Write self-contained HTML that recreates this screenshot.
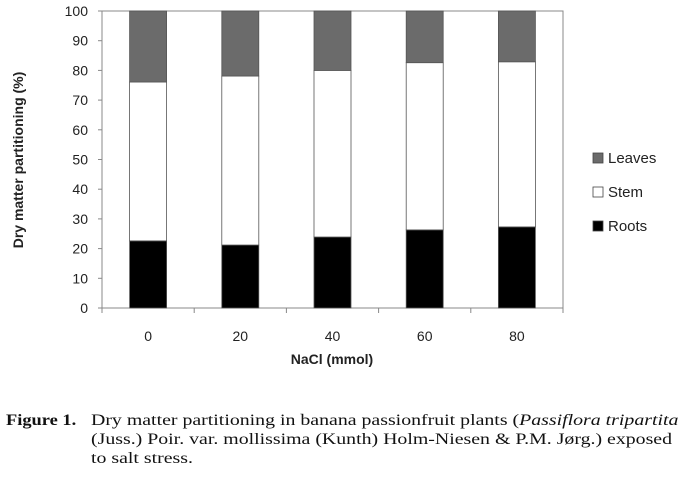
<!DOCTYPE html>
<html><head><meta charset="utf-8"><style>
body{margin:0;background:#fff;width:684px;height:477px;overflow:hidden;position:relative}
svg{position:absolute;left:0;top:0}
.cap{position:absolute;font-family:"Liberation Serif",serif;font-size:16px;line-height:19px;color:#111;transform-origin:0 0;white-space:nowrap}
</style></head><body>
<svg width="684" height="400" id="chart" font-family="Liberation Sans, sans-serif"></svg>
<div class="cap" style="left:6px;top:411px;font-weight:bold;transform:scaleX(1.15)">Figure 1.</div>
<div class="cap" style="left:91px;top:411px;transform:scaleX(1.24)">Dry matter partitioning in banana passionfruit plants (<i>Passiflora tripartita</i><br>(Juss.) Poir. var. mollissima (Kunth) Holm-Niesen &amp; P.M. Jørg.) exposed<br>to salt stress.</div>
<script>
const categories=["0","20","40","60","80"];
const roots=[22.6,21.2,23.9,26.3,27.3];
const stem=[53.5,56.9,56.1,56.3,55.6];
const leaves=[23.9,21.9,20.0,17.4,17.1];
const yTicks=[0,10,20,30,40,50,60,70,80,90,100];
const NS="http://www.w3.org/2000/svg";
const svg=document.getElementById('chart');
const X0=102,X1=563,Y0=308,Y1=11;
const bw=(X1-X0)/categories.length;
const y=v=>Y0-(v/100)*(Y0-Y1);
function el(t,a,p){const e=document.createElementNS(NS,t);for(const k in a)e.setAttribute(k,a[k]);(p||svg).appendChild(e);return e;}
el('rect',{x:X0,y:Y1,width:X1-X0,height:Y0-Y1,fill:'none',stroke:'#888','stroke-width':1});
yTicks.forEach(v=>{
 const t=el('text',{x:88,y:y(v)+5,'text-anchor':'end','font-size':14,fill:'#222'});t.textContent=v;
 
 
 el('line',{x1:X0-4,x2:X0,y1:y(v),y2:y(v),stroke:'#888'});
});
for(let i=0;i<=categories.length;i++)el('line',{x1:X0+i*bw,x2:X0+i*bw,y1:Y0,y2:Y0+5,stroke:'#888'});
const series=[[roots,'#000','roots'],[stem,'#fff','stem'],[leaves,'#6b6b6b','leaves']];
categories.forEach((c,i)=>{
 let base=0;const cx=X0+(i+0.5)*bw;
 series.forEach(([arr,col,nm])=>{
  const r=el('rect',{x:cx-18.5,y:y(base+arr[i]),width:37,height:y(base)-y(base+arr[i]),fill:col,stroke:'#555','stroke-width':0.8});
  
  
  base+=arr[i];
 });
 const t=el('text',{x:cx,y:341,'text-anchor':'middle','font-size':14,fill:'#222'});t.textContent=c;
 
 
});
const xt=el('text',{x:332,y:364,'text-anchor':'middle','font-size':14,'font-weight':'bold',fill:'#222'});xt.textContent='NaCl (mmol)';


const yt=el('text',{x:0,y:0,'text-anchor':'middle','font-size':14,'font-weight':'bold',fill:'#222',transform:'translate(23,160) rotate(-90)','xml:space':'preserve'});yt.textContent='Dry matter partitioning  (%)';


[['Leaves','#6b6b6b',159],['Stem','#fff',193],['Roots','#000',227]].forEach(([n,c,yy])=>{
 const g=el('g',{});
 
 
 el('rect',{x:593,y:yy-6,width:10,height:10,fill:c,stroke:'#444','stroke-width':0.8},g);
 const t=el('text',{x:608,y:yy+4,'font-size':15,fill:'#222'},g);t.textContent=n;
});
</script>
</body></html>
